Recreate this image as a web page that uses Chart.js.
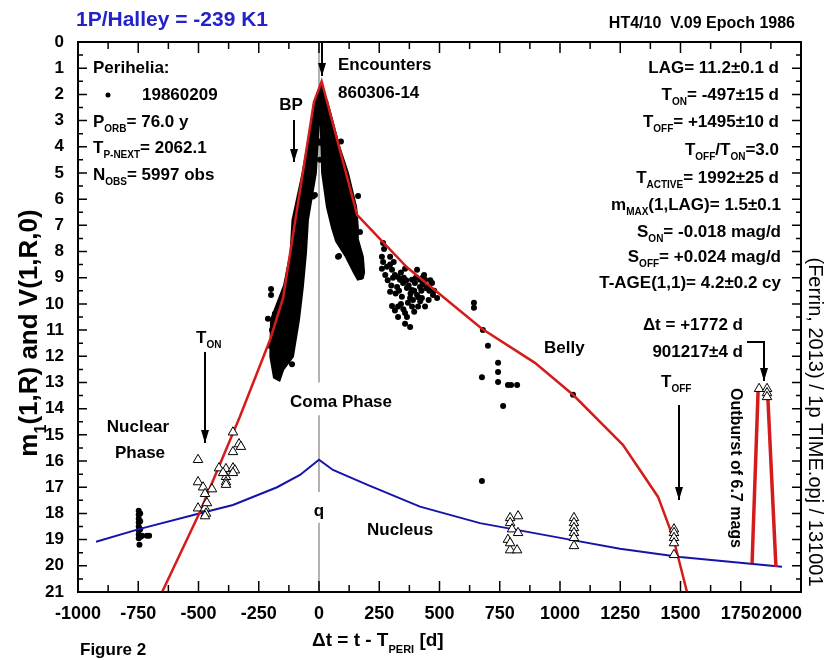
<!DOCTYPE html>
<html lang="en">
<head>
<meta charset="UTF-8" />
<title>1P/Halley secular light curve</title>
<script src="https://cdn.jsdelivr.net/npm/chart.js"></script>
<style>
  html, body { margin: 0; padding: 0; background: #fff; }
  #wrap { width: 826px; height: 660px; }
</style>
</head>
<body>
<div id="wrap"><canvas id="halleyChart" width="826" height="660"></canvas></div>
<script>
  // axis ticks
  const xTicks = [-1000, -750, -500, -250, 0, 250, 500, 750, 1000, 1250, 1500, 1750, 2000];
  const yTicks = [0, 1, 2, 3, 4, 5, 6, 7, 8, 9, 10, 11, 12, 13, 14, 15, 16, 17, 18, 19, 20, 21];

  // outline of the solid black mass of observations around perihelion
  const denseDays = [12, -2, -20, -30, -66, -108, -116, -143, -197, -200, -185, -165, -150, -110, -85, -69, -56, -48, -15, -3, 3,
                     9, 15, 35, 56, 73, 114, 147, 162, 180, 185, 180, 160, 159, 152, 118, 82, 56, 30];
  const denseMags = [1.55, 1.9, 2.4, 3.1, 5.0, 6.8, 8.05, 9.3, 10.6, 12.0, 12.8, 12.9, 12.5, 12.0, 10.6, 9.35, 8.05, 6.8, 5.0, 3.1, 2.8,
                     3.1, 5.0, 6.3, 7.1, 7.6, 8.2, 8.8, 9.05, 9.0, 8.8, 8.2, 7.56, 7.06, 6.3, 5.0, 4.0, 3.1, 2.2];

  // single observations (dots)
  const obsDays = [-748, -748, -748, -748, -748, -748, -748, -748, -742, -742, -742, -742, -745, -734, -714, -705,
                   -199, -199, -212, -183, -195, -203, -112, -170, -25, -17, 4, 4, 1,
                   91, 162, 83, 79, 170, 170,
                   266, 261, 266, 261, 282, 295, 295, 303, 307, 315, 328, 336, 324, 357, 349, 344, 295, 365, 386, 386,
                   398, 407, 407, 419, 419, 427, 432, 436, 440, 452, 469, 473, 490, 440, 411, 386, 369, 328, 303, 357,
                   328, 357, 378, 378, 390, 643, 643,
                   270, 275, 285, 300, 310, 318, 332, 340, 352, 362, 372, 380, 395, 402, 412, 425, 430, 445, 458, 462,
                   478, 350, 365, 395, 340, 315, 420, 455,
                   680, 701, 743, 743, 676, 743, 784, 797, 822, 764, 1054, 676];
  const obsMags = [17.9, 18.05, 18.2, 18.35, 18.5, 18.65, 18.8, 18.95, 18.0, 18.3, 18.6, 18.9, 19.2, 18.85, 18.85, 18.85,
                   9.43, 9.66, 10.57, 10.38, 11.0, 11.6, 12.3, 12.8, 5.9, 5.84, 3.85, 4.5, 3.8,
                   3.8, 5.88, 8.17, 8.2, 8.97, 7.25,
                   7.67, 8.2, 8.4, 8.66, 8.58, 8.2, 8.5, 8.7, 9.0, 8.9, 8.97, 9.08, 9.35, 8.66, 9.2, 9.73, 9.54, 9.39, 9.08, 9.47,
                   9.2, 8.7, 9.66, 9.35, 9.08, 9.77, 8.97, 8.9, 9.08, 9.35, 9.2, 9.66, 9.77, 10.1, 10.1, 10.1, 9.96, 10.1, 10.08, 10.35,
                   10.5, 10.76, 10.88, 9.77, 9.85, 9.96, 10.15,
                   7.9, 8.9, 9.1, 9.3, 8.4, 9.6, 9.5, 8.8, 9.0, 9.1, 9.3, 9.6, 9.5, 9.0, 9.75, 9.5, 9.25, 9.4, 9.5, 9.1,
                   9.5, 10.2, 10.5, 10.3, 10.0, 10.25, 9.9, 9.85,
                   11.0, 11.6, 12.25, 12.6, 12.8, 12.98, 13.1, 13.1, 13.1, 13.9, 13.47, 16.76];

  // nucleus magnitudes (open triangles)
  const triDays = [-502, -502, -481, -473, -444, -502, -473, -465, -469, -473, -357, -332, -324, -357, -415, -386, -357, -349,
                   -386, -386, -386, -357, -398,
                   793, 826, 793, 801, 826, 784, 793, 822, 793,
                   1058, 1058, 1058, 1058, 1058, 1058,
                   1473, 1473, 1473, 1473, 1473,
                   1826, 1859, 1859, 1859];
  const triMags = [15.95, 16.8, 17.0, 17.25, 17.07, 17.8, 17.8, 17.6, 18.0, 18.1, 14.9, 15.35, 15.45, 15.65, 16.27, 16.3, 16.27, 16.35,
                   16.6, 16.8, 16.9, 16.45, 16.45,
                   18.17, 18.1, 18.36, 18.6, 18.74, 19.0, 19.4, 19.4, 19.13,
                   18.17, 18.36, 18.55, 18.74, 18.93, 19.24,
                   18.6, 18.74, 18.93, 19.13, 19.58,
                   13.24, 13.24, 13.4, 13.55];

  // coma envelope (red)
  const comaDays = [-651, -497, -328, -203, -149, -21, 11, 158, 365, 676, 896, 1054, 1261, 1407, 1469, 1527];
  const comaMags = [21, 18.0, 14.3, 11.37, 9.77, 2.29, 1.5, 6.6, 8.6, 10.95, 12.25, 13.47, 15.38, 17.37, 18.9, 21];

  // outburst legs (red)
  const burstUpDays = [1797, 1822];
  const burstUpMags = [19.9, 13.3];
  const burstDownDays = [1861, 1896];
  const burstDownMags = [13.3, 20.04];

  // nucleus curve (blue)
  const nucDays = [-925, -747, -497, -357, -174, -79, 0, 58, 199, 419, 668, 1041, 1249, 1498, 1921];
  const nucMags = [19.08, 18.6, 18.0, 17.68, 17.0, 16.53, 15.95, 16.34, 16.9, 17.74, 18.37, 19.0, 19.35, 19.66, 20.04];

  // perihelion marker, broken where the labels sit
  const periDays = [0, 0, 0, 0, 0, 0, 0, 0];
  const periMags = [0, 13.0, null, 14.25, 17.18, null, 18.36, 21];

  const FONT = "'Liberation Sans', Arial, sans-serif";
  const pts = (xs, ys) => xs.map((x, i) => ({ x: x, y: ys[i] }));

  // text with subscripts: plain strings are normal, [string] is a subscript
  function richText(ctx, x, y, parts, align, size) {
    const sub = Math.round(size * 0.6);
    let w = 0;
    parts.forEach(p => {
      ctx.font = 'bold ' + (Array.isArray(p) ? sub : size) + 'px ' + FONT;
      w += ctx.measureText(Array.isArray(p) ? p[0] : p).width;
    });
    let cx = align === 'right' ? x - w : align === 'center' ? x - w / 2 : x;
    ctx.textAlign = 'left';
    ctx.textBaseline = 'middle';
    parts.forEach(p => {
      const isSub = Array.isArray(p);
      const t = isSub ? p[0] : p;
      ctx.font = 'bold ' + (isSub ? sub : size) + 'px ' + FONT;
      ctx.fillText(t, cx, isSub ? y + size * 0.45 : y);
      cx += ctx.measureText(t).width;
    });
  }

  function arrow(ctx, path) {
    ctx.beginPath();
    ctx.moveTo(path[0][0], path[0][1]);
    for (let i = 1; i < path.length; i++) ctx.lineTo(path[i][0], path[i][1]);
    ctx.stroke();
    const [x1, y1] = path[path.length - 2];
    const [x2, y2] = path[path.length - 1];
    const a = Math.atan2(y2 - y1, x2 - x1);
    ctx.beginPath();
    ctx.moveTo(x2, y2);
    ctx.lineTo(x2 - 13 * Math.cos(a) + 4 * Math.sin(a), y2 - 13 * Math.sin(a) - 4 * Math.cos(a));
    ctx.lineTo(x2 - 13 * Math.cos(a) - 4 * Math.sin(a), y2 - 13 * Math.sin(a) + 4 * Math.cos(a));
    ctx.closePath();
    ctx.fill();
  }

  const decorations = {
    id: 'decorations',
    afterDraw(chart) {
      const ctx = chart.ctx;
      const a = chart.chartArea;
      const xs = chart.scales.x, ys = chart.scales.y;
      ctx.save();
      ctx.fillStyle = '#000';
      ctx.strokeStyle = '#000';

      // frame
      ctx.lineWidth = 2;
      ctx.strokeRect(a.left, a.top, a.right - a.left, a.bottom - a.top);

      // inward ticks on all four sides
      ctx.lineWidth = 1.5;
      ctx.beginPath();
      for (let v = -1000; v <= 2000; v += 125) {
        const px = xs.getPixelForValue(v);
        const len = v % 250 === 0 ? 11 : 7;
        ctx.moveTo(px, a.bottom); ctx.lineTo(px, a.bottom - len);
        ctx.moveTo(px, a.top); ctx.lineTo(px, a.top + len);
      }
      for (let v = 0; v <= 21; v += 0.5) {
        const py = ys.getPixelForValue(v);
        const len = Number.isInteger(v) ? 9 : 5;
        ctx.moveTo(a.left, py); ctx.lineTo(a.left + len, py);
        ctx.moveTo(a.right, py); ctx.lineTo(a.right - len, py);
      }
      ctx.stroke();

      // x tick labels (the last one is pulled inside the frame)
      xTicks.forEach((v, i) => {
        const px = xs.getPixelForValue(v);
        if (i === xTicks.length - 1) richText(ctx, a.right + 1, 614, [String(v)], 'right', 18);
        else richText(ctx, px, 614, [String(v)], 'center', 18);
      });

      // titles
      ctx.fillStyle = '#2323c8';
      richText(ctx, 76, 20, ['1P/Halley = -239 K1'], 'left', 21);
      ctx.fillStyle = '#000';
      richText(ctx, 795, 24, ['HT4/10  V.09 Epoch 1986'], 'right', 16);
      richText(ctx, 80, 650, ['Figure 2'], 'left', 17);
      richText(ctx, 312, 641, ['\u0394t = t - T', ['PERI'], ' [d]'], 'left', 19);

      ctx.save();
      ctx.translate(30, 333);
      ctx.rotate(-Math.PI / 2);
      richText(ctx, 0, 0, ['m', ['1'], '(1,R) and V(1,R,0)'], 'center', 26);
      ctx.restore();

      ctx.save();
      ctx.translate(815, 422);
      ctx.rotate(Math.PI / 2);
      ctx.font = '20px ' + FONT;
      ctx.textAlign = 'center';
      ctx.textBaseline = 'middle';
      ctx.fillText('(Ferrin, 2013) / 1p TIME.opj / 131001', 0, 0);
      ctx.restore();

      // left block
      const s = 17;
      richText(ctx, 93, 68, ['Perihelia:'], 'left', s);
      ctx.beginPath(); ctx.arc(108, 95, 2.5, 0, 2 * Math.PI); ctx.fill();
      richText(ctx, 142, 95, ['19860209'], 'left', s);
      richText(ctx, 93, 122, ['P', ['ORB'], '= 76.0 y'], 'left', s);
      richText(ctx, 93, 148, ['T', ['P-NEXT'], '= 2062.1'], 'left', s);
      richText(ctx, 93, 175, ['N', ['OBS'], '= 5997 obs'], 'left', s);

      // right block
      const r = 779;
      richText(ctx, r, 68, ['LAG= 11.2\u00b10.1 d'], 'right', s);
      richText(ctx, r, 95, ['T', ['ON'], '= -497\u00b115 d'], 'right', s);
      richText(ctx, r, 122, ['T', ['OFF'], '= +1495\u00b110 d'], 'right', s);
      richText(ctx, r, 150, ['T', ['OFF'], '/T', ['ON'], '=3.0'], 'right', s);
      richText(ctx, r, 178, ['T', ['ACTIVE'], '= 1992\u00b125 d'], 'right', s);
      richText(ctx, r + 2, 205, ['m', ['MAX'], '(1,LAG)= 1.5\u00b10.1'], 'right', s);
      richText(ctx, r + 2, 232, ['S', ['ON'], '= -0.018 mag/d'], 'right', s);
      richText(ctx, r + 2, 257, ['S', ['OFF'], '= +0.024 mag/d'], 'right', s);
      richText(ctx, r + 2, 283, ['T-AGE(1,1)= 4.2\u00b10.2 cy'], 'right', s);
      richText(ctx, 743, 325, ['\u0394t = +1772 d'], 'right', s);
      richText(ctx, 743, 352, ['901217\u00b14 d'], 'right', s);

      // labels in the plot
      richText(ctx, 338, 65, ['Encounters'], 'left', s);
      richText(ctx, 338, 93, ['860306-14'], 'left', s);
      richText(ctx, 291, 105, ['BP'], 'center', s);
      richText(ctx, 138, 427, ['Nuclear'], 'center', s);
      richText(ctx, 140, 453, ['Phase'], 'center', s);
      richText(ctx, 196, 338, ['T', ['ON']], 'left', s);
      richText(ctx, 341, 402, ['Coma Phase'], 'center', s);
      richText(ctx, 319, 511, ['q'], 'center', s);
      richText(ctx, 367, 530, ['Nucleus'], 'left', s);
      richText(ctx, 544, 348, ['Belly'], 'left', s);
      richText(ctx, 661, 382, ['T', ['OFF']], 'left', s);

      ctx.save();
      ctx.translate(735, 468);
      ctx.rotate(Math.PI / 2);
      richText(ctx, 0, 0, ['Outburst of 6.7 mags'], 'center', 16);
      ctx.restore();

      // arrows
      ctx.lineWidth = 2;
      arrow(ctx, [[322, 42], [322, 76]]);
      arrow(ctx, [[294, 120], [294, 162]]);
      arrow(ctx, [[205, 352], [205, 443]]);
      arrow(ctx, [[679, 405], [679, 500]]);
      arrow(ctx, [[747, 342], [764, 342], [764, 381]]);

      ctx.restore();
    }
  };

  new Chart(document.getElementById('halleyChart'), {
    type: 'scatter',
    data: {
      datasets: [
        {
          label: 'Nucleus (triangles)',
          data: pts(triDays, triMags),
          pointStyle: 'triangle',
          pointRadius: 5.5,
          backgroundColor: '#fff',
          borderColor: '#000',
          borderWidth: 1
        },
        {
          type: 'line',
          label: 'Outburst up',
          data: pts(burstUpDays, burstUpMags),
          borderColor: '#d41c1c',
          borderWidth: 3.5,
          pointRadius: 0,
          fill: false
        },
        {
          type: 'line',
          label: 'Outburst down',
          data: pts(burstDownDays, burstDownMags),
          borderColor: '#d41c1c',
          borderWidth: 3.5,
          pointRadius: 0,
          fill: false
        },
        {
          type: 'line',
          label: 'Coma',
          data: pts(comaDays, comaMags),
          borderColor: '#d41c1c',
          borderWidth: 2.5,
          pointRadius: 0,
          fill: false
        },
        {
          type: 'line',
          label: 'Nucleus',
          data: pts(nucDays, nucMags),
          borderColor: '#1414aa',
          borderWidth: 2,
          pointRadius: 0,
          fill: false
        },
        {
          label: 'Observations',
          data: pts(obsDays, obsMags),
          pointRadius: 3,
          backgroundColor: '#000',
          borderColor: '#000',
          borderWidth: 0
        },
        {
          type: 'line',
          label: 'Dense observations',
          data: pts(denseDays, denseMags),
          backgroundColor: '#000',
          borderColor: '#000',
          borderWidth: 3,
          pointRadius: 0,
          fill: 'shape'
        },
        {
          type: 'line',
          label: 'Perihelion',
          data: pts(periDays, periMags),
          borderColor: '#808080',
          borderWidth: 1.2,
          pointRadius: 0,
          spanGaps: false,
          fill: false
        }
      ]
    },
    options: {
      responsive: false,
      animation: false,
      layout: { padding: { top: 42, right: 25, left: 0, bottom: 0 } },
      plugins: { legend: { display: false }, tooltip: { enabled: false } },
      scales: {
        x: {
          type: 'linear',
          min: -1000,
          max: 2000,
          afterFit(scale) { scale.height = 68; scale.paddingLeft = 0; scale.paddingRight = 0; },
          afterBuildTicks(scale) { scale.ticks = xTicks.map(v => ({ value: v })); },
          border: { display: false },
          grid: { display: false, drawTicks: false },
          ticks: { display: false }
        },
        y: {
          type: 'linear',
          reverse: true,
          min: 0,
          max: 21,
          afterFit(scale) { scale.width = 78; },
          afterBuildTicks(scale) { scale.ticks = yTicks.map(v => ({ value: v })); },
          border: { display: false },
          grid: { display: false, drawTicks: false },
          ticks: { color: '#000', font: { family: FONT, size: 17, weight: 'bold' }, padding: 14, autoSkip: false,
                   callback: v => String(v) }
        }
      }
    },
    plugins: [decorations]
  });
</script>
</body>
</html>
